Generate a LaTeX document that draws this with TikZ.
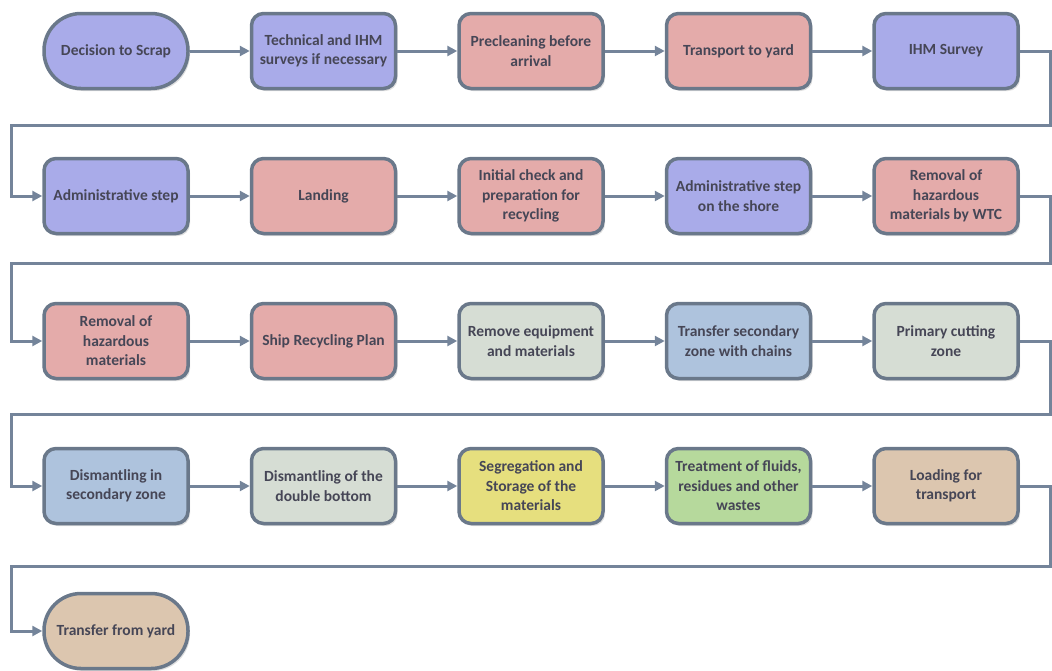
\documentclass[tikz,border=0pt]{standalone}
\usepackage{fontspec}
\setmainfont{Carlito}
\usepackage{tikz}
\usetikzlibrary{positioning,arrows.meta,shadows}

\definecolor{procblue}{HTML}{A9ABE9}
\definecolor{procpink}{HTML}{E4ABAA}
\definecolor{procsage}{HTML}{D6DDD4}
\definecolor{procsteel}{HTML}{AEC3DD}
\definecolor{procyellow}{HTML}{E6DF7E}
\definecolor{procgreen}{HTML}{B6D99C}
\definecolor{proctan}{HTML}{DCC6AF}
\definecolor{edgegray}{HTML}{6A788A}
\definecolor{linkgray}{HTML}{74849A}
\definecolor{labelgray}{HTML}{464656}

\begin{document}
\begin{tikzpicture}[
  x=1pt, y=-1pt,
  box/.style={draw=edgegray, line width=3.5pt, rounded corners=12pt, minimum width=144pt, minimum height=75pt,
    inner sep=2pt, align=center, text=labelgray, font=\fontsize{15.5}{19.5}\selectfont\bfseries,
    drop shadow={opacity=0.25, shadow xshift=2pt, shadow yshift=-2.5pt}},
  term/.style={box, rounded corners=37pt},
  flow/.style={draw=linkgray, line width=3pt, -{Triangle[length=10pt,width=10pt]}},
  wrap/.style={draw=linkgray, line width=3pt, rounded corners=0pt, -{Triangle[length=10pt,width=10pt]}},
]
\useasboundingbox (0,0) rectangle (1052,670);

% Row 1
\node[term, fill=procblue] (scrap) at (116,51) {Decision to Scrap};
\node[box, fill=procblue, right=60pt of scrap] (techsurvey) {Technical and IHM\\surveys if necessary};
\node[box, fill=procpink, right=60pt of techsurvey] (preclean) {Precleaning before\\arrival};
\node[box, fill=procpink, right=60pt of preclean] (toyard) {Transport to yard};
\node[box, fill=procblue, right=60pt of toyard] (ihm) {IHM Survey};

% Row 2
\node[box, fill=procblue] (admin) at (116,196) {Administrative step};
\node[box, fill=procpink, right=60pt of admin] (landing) {Landing};
\node[box, fill=procpink, right=60pt of landing] (check) {Initial check and\\preparation for\\recycling};
\node[box, fill=procblue, right=60pt of check] (shore) {Administrative step\\on the shore};
\node[box, fill=procpink, right=60pt of shore] (wtc) {Removal of\\hazardous\\materials by WTC};

% Row 3
\node[box, fill=procpink] (hazmat) at (116,341) {Removal of\\hazardous\\materials};
\node[box, fill=procpink, right=60pt of hazmat] (srp) {Ship Recycling Plan};
\node[box, fill=procsage, right=60pt of srp] (equip) {Remove equipment\\and materials};
\node[box, fill=procsteel, right=60pt of equip] (chains) {Transfer secondary\\zone with chains};
\node[box, fill=procsage, right=60pt of chains] (primary) {Primary cutting\\zone};

% Row 4
\node[box, fill=procsteel] (dismsec) at (116,486) {Dismantling in\\secondary zone};
\node[box, fill=procsage, right=60pt of dismsec] (dblbottom) {Dismantling of the\\double bottom};
\node[box, fill=procyellow, right=60pt of dblbottom] (segreg) {Segregation and\\Storage of the\\materials};
\node[box, fill=procgreen, right=60pt of segreg] (fluids) {Treatment of fluids,\\residues and other\\wastes};
\node[box, fill=proctan, right=60pt of fluids] (loading) {Loading for\\transport};

% Row 5
\node[term, fill=proctan] (fromyard) at (116,631) {Transfer from yard};

% Turn points of the return lines
\coordinate (ret1r) at (1050,125);
\coordinate (ret1l) at (11,125);
\coordinate (ret2r) at (1050,263);
\coordinate (ret2l) at (11,263);
\coordinate (ret3r) at (1050,414);
\coordinate (ret3l) at (11,414);
\coordinate (ret4r) at (1050,566);
\coordinate (ret4l) at (11,566);

% Connectors
\draw[flow] (scrap) -- (techsurvey);
\draw[flow] (techsurvey) -- (preclean);
\draw[flow] (preclean) -- (toyard);
\draw[flow] (toyard) -- (ihm);
\draw[wrap] (ihm.east) -| (ret1r) -- (ret1l) |- (admin.west);

\draw[flow] (admin) -- (landing);
\draw[flow] (landing) -- (check);
\draw[flow] (check) -- (shore);
\draw[flow] (shore) -- (wtc);
\draw[wrap] (wtc.east) -| (ret2r) -- (ret2l) |- (hazmat.west);

\draw[flow] (hazmat) -- (srp);
\draw[flow] (srp) -- (equip);
\draw[flow] (equip) -- (chains);
\draw[flow] (chains) -- (primary);
\draw[wrap] (primary.east) -| (ret3r) -- (ret3l) |- (dismsec.west);

\draw[flow] (dismsec) -- (dblbottom);
\draw[flow] (dblbottom) -- (segreg);
\draw[flow] (segreg) -- (fluids);
\draw[flow] (fluids) -- (loading);
\draw[wrap] (loading.east) -| (ret4r) -- (ret4l) |- (fromyard.west);

\end{tikzpicture}
\end{document}
